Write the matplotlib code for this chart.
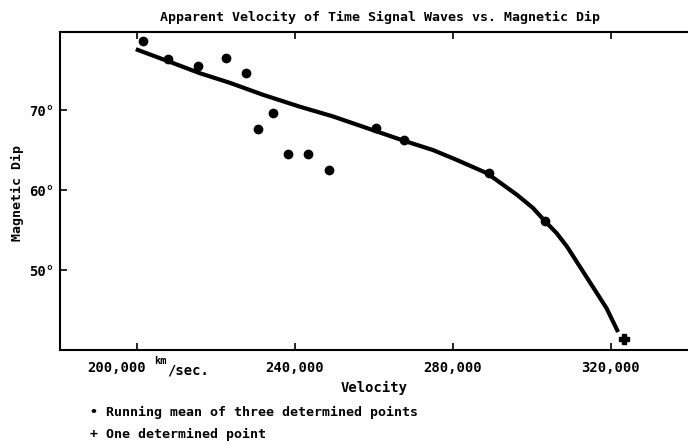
import matplotlib
matplotlib.use("Agg")
import matplotlib.pyplot as plt
import matplotlib.transforms as mtransforms

# running mean points (velocity km/sec, dip degrees)
mean_vel = [201500, 207900, 215400, 222500, 227600, 230600, 234400,
            238200, 243300, 248600, 260500, 267600, 289100, 303300]
mean_dip = [78.6, 76.4, 75.5, 76.5, 74.6, 67.6, 69.6,
            64.5, 64.5, 62.5, 67.75, 66.25, 62.1, 56.1]

# single determined point
one_vel = [323300]
one_dip = [41.4]

# hand-drawn curve
curve_vel = [199700, 208400, 215900, 223500, 231900, 241300, 249600, 260800,
             267300, 274900, 281000, 288600, 296200, 300250, 303300, 306250,
             308900, 312150, 315400, 318900, 321800]
curve_dip = [77.6, 76.0, 74.6, 73.4, 71.9, 70.4, 69.2, 67.3,
             66.2, 65.0, 63.75, 62.1, 59.4, 57.75, 56.1, 54.6,
             52.9, 50.4, 47.9, 45.2, 42.25]

x_ticks = [200000, 240000, 280000, 320000]
x_labels = ["200,000", "240,000", "280,000", "320,000"]
y_ticks = [50, 60, 70]
y_labels = ["50°", "60°", "70°"]

font = "DejaVu Sans Mono"

fig = plt.figure(figsize=(6.88, 4.45), dpi=100)
ax = fig.add_axes([60 / 688, 1 - 350 / 445, 1 - 60 / 688, (350 - 32) / 445])

ax.plot(curve_vel, curve_dip, color="black", lw=3, solid_capstyle="butt",
        solid_joinstyle="round")
ax.plot(mean_vel, mean_dip, "o", color="black", ms=6)
ax.plot(one_vel, one_dip, "P", color="black", ms=7)

ax.set_xlim(180500, 339500)
ax.set_ylim(40, 79.75)
ax.spines["right"].set_visible(False)
for s in ["left", "top", "bottom"]:
    ax.spines[s].set_linewidth(1.5)

ax.set_xticks(x_ticks)
ax.set_xticklabels(x_labels, family=font, fontsize=10, weight="bold")
ax.set_yticks(y_ticks)
ax.set_yticklabels(y_labels, family=font, fontsize=10, weight="bold")
ax.tick_params(axis="x", direction="in", length=5, width=1.2, top=True, pad=8)
ax.tick_params(axis="y", direction="in", length=5, width=1.2, pad=4)

# first label sits left of its tick to make room for the units
first = ax.get_xticklabels()[0]
first.set_transform(first.get_transform() +
                    mtransforms.ScaledTranslation(-0.2, 0, fig.dpi_scale_trans))

ax.set_xlabel("Velocity", family=font, fontsize=10, weight="bold", labelpad=4)
fig.text(17 / 688, 1 - 193 / 445, "Magnetic Dip", family=font, fontsize=9.5,
         weight="bold", rotation=90, ha="center", va="center")
ax.set_title("Apparent Velocity of Time Signal Waves vs. Magnetic Dip",
             family=font, fontsize=9.5, weight="bold", pad=8, x=0.51)

# units next to first tick label
fig.text(154 / 688, 1 - 364 / 445, "km", family=font, fontsize=7.5, weight="bold")
fig.text(167 / 688, 1 - 375 / 445, "/sec.", family=font, fontsize=10, weight="bold")

# key under the chart
fig.text(90 / 688, 1 - 416 / 445, "• Running mean of three determined points",
         family=font, fontsize=9.5, weight="bold")
fig.text(90 / 688, 1 - 438 / 445, "+ One determined point",
         family=font, fontsize=9.5, weight="bold")

fig.savefig("out.png", dpi=100)
